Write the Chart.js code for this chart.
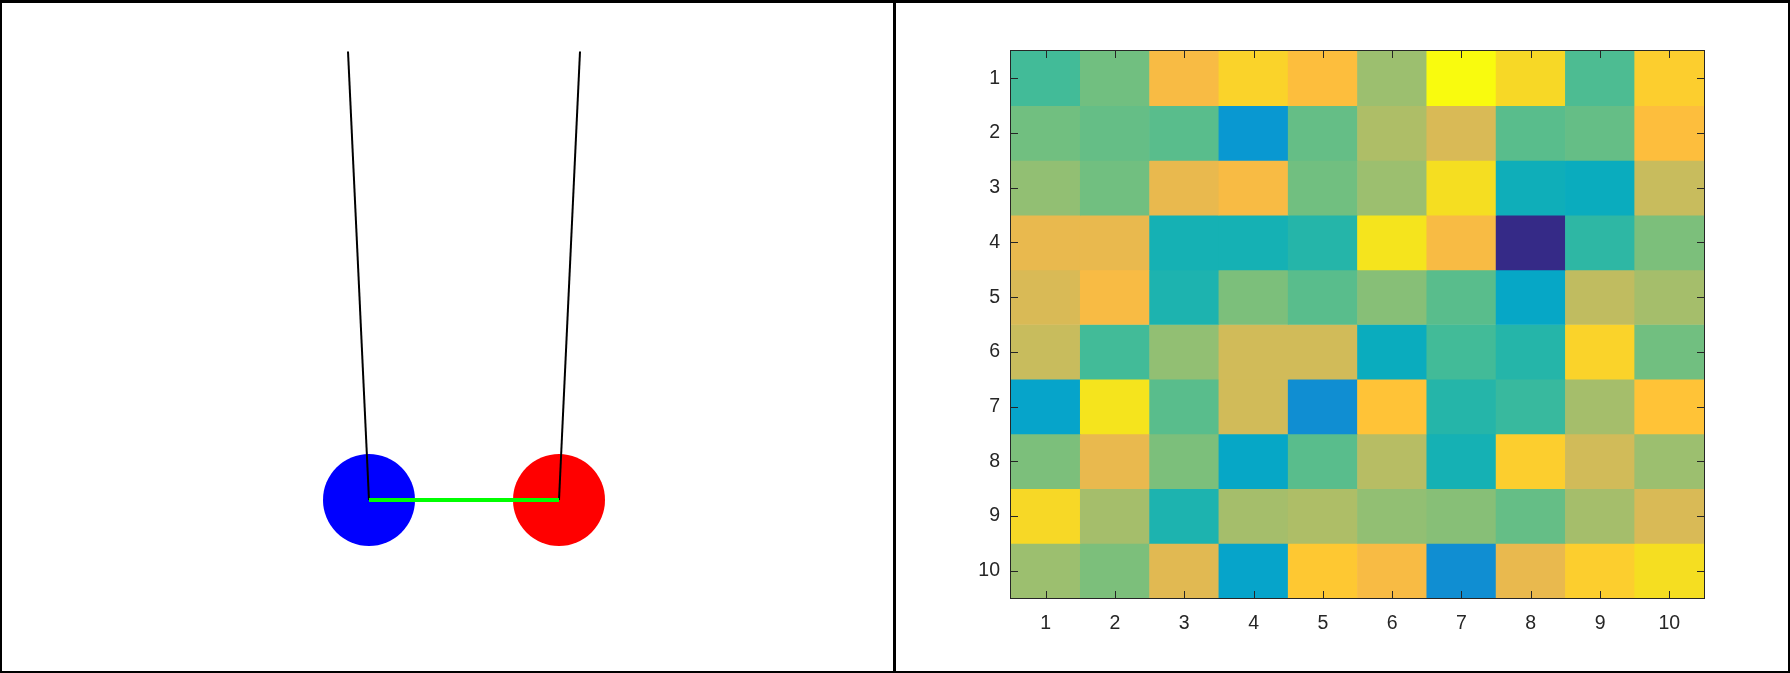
<!DOCTYPE html>
<html>
<head>
<meta charset="utf-8">
<script src="https://cdn.jsdelivr.net/npm/chart.js@4.4.1/dist/chart.umd.min.js"></script>
<style>
html, body { margin: 0; padding: 0; background: #fff; }
#wrap { position: relative; width: 1790px; height: 673px; overflow: hidden; background: #fff; }
#frame { position: absolute; left: 0; top: 0; width: 1790px; height: 673px; box-sizing: border-box;
  border-style: solid; border-color: #000; border-width: 3px 2px 2px 2px; pointer-events: none; }
#divider { position: absolute; left: 893px; top: 0; width: 3px; height: 673px; background: #000; }
#left { position: absolute; left: 2px; top: 3px; }
#right { position: absolute; left: 896px; top: 3px; }
</style>
</head>
<body>
<div id="wrap">
  <canvas id="left" width="891" height="668"></canvas>
  <canvas id="right" width="892" height="668"></canvas>
  <div id="frame"></div>
  <div id="divider"></div>
</div>
<script>
// ---------- Left panel data: two pendulums joined by a spring ----------
const pivotX = [-1, 1];
const pivotY = [0, 0];
const bobX = [-0.819, 0.819];
const bobY = [-3.866, -3.866];
const bobColors = ['#0000FF', '#FF0000'];

// ---------- Right panel data: 10x10 matrix (colour index 0..63) ----------
const colLabels = ['1', '2', '3', '4', '5', '6', '7', '8', '9', '10'];
const rowLabels = [1, 2, 3, 4, 5, 6, 7, 8, 9, 10];
const row1  = [33, 37, 52, 57, 53, 41, 63, 58, 34, 56];
const row2  = [37, 36, 35, 20, 36, 43, 48, 35, 36, 53];
const row3  = [40, 37, 50, 52, 37, 41, 59, 27, 26, 46];
const row4  = [50, 50, 28, 28, 30, 60, 52, 0, 31, 38];
const row5  = [48, 52, 29, 38, 35, 39, 35, 24, 45, 42];
const row6  = [46, 33, 40, 47, 47, 26, 33, 30, 57, 37];
const row7  = [23, 60, 35, 47, 18, 54, 30, 32, 42, 54];
const row8  = [38, 50, 38, 24, 35, 44, 28, 56, 47, 41];
const row9  = [58, 42, 29, 42, 43, 40, 39, 36, 42, 48];
const row10 = [41, 38, 49, 23, 55, 52, 18, 50, 56, 59];
const heat = [row1, row2, row3, row4, row5, row6, row7, row8, row9, row10];

// ---------- parula colormap (64 entries) ----------
const PARULA = [
[0.2081,0.1663,0.5292],[0.2116,0.1898,0.5777],[0.2123,0.2138,0.6270],[0.2081,0.2386,0.6771],
[0.1959,0.2645,0.7279],[0.1707,0.2919,0.7792],[0.1253,0.3242,0.8303],[0.0591,0.3598,0.8683],
[0.0117,0.3875,0.8820],[0.0060,0.4086,0.8828],[0.0165,0.4266,0.8786],[0.0329,0.4430,0.8720],
[0.0498,0.4586,0.8641],[0.0629,0.4737,0.8554],[0.0723,0.4887,0.8467],[0.0779,0.5040,0.8384],
[0.0793,0.5200,0.8312],[0.0749,0.5375,0.8263],[0.0641,0.5570,0.8240],[0.0488,0.5772,0.8228],
[0.0343,0.5966,0.8199],[0.0265,0.6137,0.8135],[0.0239,0.6287,0.8038],[0.0231,0.6418,0.7913],
[0.0228,0.6535,0.7768],[0.0267,0.6642,0.7607],[0.0384,0.6743,0.7436],[0.0590,0.6838,0.7254],
[0.0843,0.6928,0.7062],[0.1133,0.7015,0.6859],[0.1453,0.7098,0.6646],[0.1801,0.7177,0.6424],
[0.2178,0.7250,0.6193],[0.2586,0.7317,0.5954],[0.3022,0.7376,0.5712],[0.3482,0.7424,0.5473],
[0.3953,0.7459,0.5244],[0.4420,0.7481,0.5033],[0.4871,0.7491,0.4840],[0.5300,0.7491,0.4661],
[0.5709,0.7485,0.4494],[0.6099,0.7473,0.4337],[0.6473,0.7456,0.4188],[0.6834,0.7435,0.4044],
[0.7184,0.7411,0.3905],[0.7525,0.7384,0.3768],[0.7858,0.7356,0.3633],[0.8185,0.7327,0.3498],
[0.8507,0.7299,0.3360],[0.8824,0.7274,0.3217],[0.9139,0.7258,0.3063],[0.9450,0.7261,0.2886],
[0.9739,0.7314,0.2666],[0.9938,0.7455,0.2403],[0.9990,0.7653,0.2164],[0.9955,0.7861,0.1967],
[0.9880,0.8066,0.1794],[0.9789,0.8271,0.1633],[0.9697,0.8481,0.1475],[0.9626,0.8705,0.1309],
[0.9589,0.8949,0.1132],[0.9598,0.9218,0.0948],[0.9661,0.9514,0.0755],[0.9763,0.9831,0.0538]
];
function parula(v) {
  const i = Math.max(0, Math.min(63, Math.round(v)));
  const c = PARULA[i];
  return 'rgb(' + c.map(t => Math.round(t * 255)).join(',') + ')';
}

// ---------- Left chart ----------
new Chart(document.getElementById('left'), {
  type: 'scatter',
  data: {
    datasets: [
      { data: [{x: bobX[0], y: bobY[0]}, {x: bobX[1], y: bobY[1]}], showLine: true,
        borderColor: '#00FF00', borderWidth: 4, pointRadius: 0, order: 0 },
      { data: [{x: pivotX[0], y: pivotY[0]}, {x: bobX[0], y: bobY[0]}], showLine: true,
        borderColor: '#000000', borderWidth: 2, pointRadius: 0, order: 1 },
      { data: [{x: pivotX[1], y: pivotY[1]}, {x: bobX[1], y: bobY[1]}], showLine: true,
        borderColor: '#000000', borderWidth: 2, pointRadius: 0, order: 1 },
      { data: [{x: bobX[0], y: bobY[0]}, {x: bobX[1], y: bobY[1]}], showLine: false,
        pointRadius: 46, pointHoverRadius: 46, backgroundColor: bobColors,
        borderWidth: 0, pointBorderWidth: 0, order: 2 }
    ]
  },
  options: {
    responsive: false, animation: false, events: [],
    layout: { padding: 0, autoPadding: false },
    plugins: { legend: { display: false }, tooltip: { enabled: false } },
    scales: {
      x: { type: 'linear', display: false, min: -3.9828, max: 3.6983 },
      y: { type: 'linear', display: false, min: -5.3405, max: 0.4181 }
    }
  }
});

// ---------- Right chart (heatmap from floating bars) ----------
const innerTicks = {
  id: 'innerTicks',
  afterDatasetsDraw(chart) {
    const {ctx, chartArea: a, scales: {x, y}} = chart;
    const L = 7;
    ctx.save();
    ctx.strokeStyle = '#262626';
    ctx.lineWidth = 1;
    ctx.beginPath();
    colLabels.forEach((lab, i) => {
      const px = Math.round(x.getPixelForValue(i)) + 0.5;
      ctx.moveTo(px, a.bottom); ctx.lineTo(px, a.bottom - L);
      ctx.moveTo(px, a.top); ctx.lineTo(px, a.top + L);
    });
    rowLabels.forEach(v => {
      const py = Math.round(y.getPixelForValue(v)) + 0.5;
      ctx.moveTo(a.left, py); ctx.lineTo(a.left + L, py);
      ctx.moveTo(a.right, py); ctx.lineTo(a.right - L, py);
    });
    ctx.stroke();
    ctx.strokeRect(Math.round(a.left) - 0.5, Math.round(a.top) - 0.5,
                   Math.round(a.right) - Math.round(a.left) + 1, Math.round(a.bottom) - Math.round(a.top) + 1);
    ctx.restore();
  }
};

const tickFont = { family: "'Liberation Sans', Arial, Helvetica, sans-serif", size: 19.5 };

new Chart(document.getElementById('right'), {
  type: 'bar',
  data: {
    labels: colLabels,
    datasets: heat.map((vals, i) => ({
      label: 'row ' + rowLabels[i],
      data: vals.map(() => [rowLabels[i] - 0.5, rowLabels[i] + 0.5]),
      backgroundColor: vals.map(v => parula(v)),
      borderWidth: 0,
      barPercentage: 1,
      categoryPercentage: 1
    }))
  },
  options: {
    responsive: false, animation: false, events: [],
    layout: { padding: { left: 0, top: 48, right: 84, bottom: 0 } },
    plugins: { legend: { display: false }, tooltip: { enabled: false } },
    scales: {
      x: {
        type: 'category', stacked: true, offset: true,
        grid: { display: false, drawTicks: false }, border: { display: false },
        ticks: { color: '#262626', font: tickFont, padding: 14, maxRotation: 0, autoSkip: false },
        afterFit: s => { s.height = 73; }
      },
      y: {
        type: 'linear', min: 0.5, max: 10.5, reverse: true, stacked: false,
        grid: { display: false, drawTicks: false }, border: { display: false },
        ticks: { color: '#262626', font: tickFont, padding: 11 },
        afterBuildTicks: s => { s.ticks = rowLabels.map(v => ({ value: v })); },
        afterFit: s => { s.width = 115; }
      }
    }
  },
  plugins: [innerTicks]
});
</script>
</body>
</html>
